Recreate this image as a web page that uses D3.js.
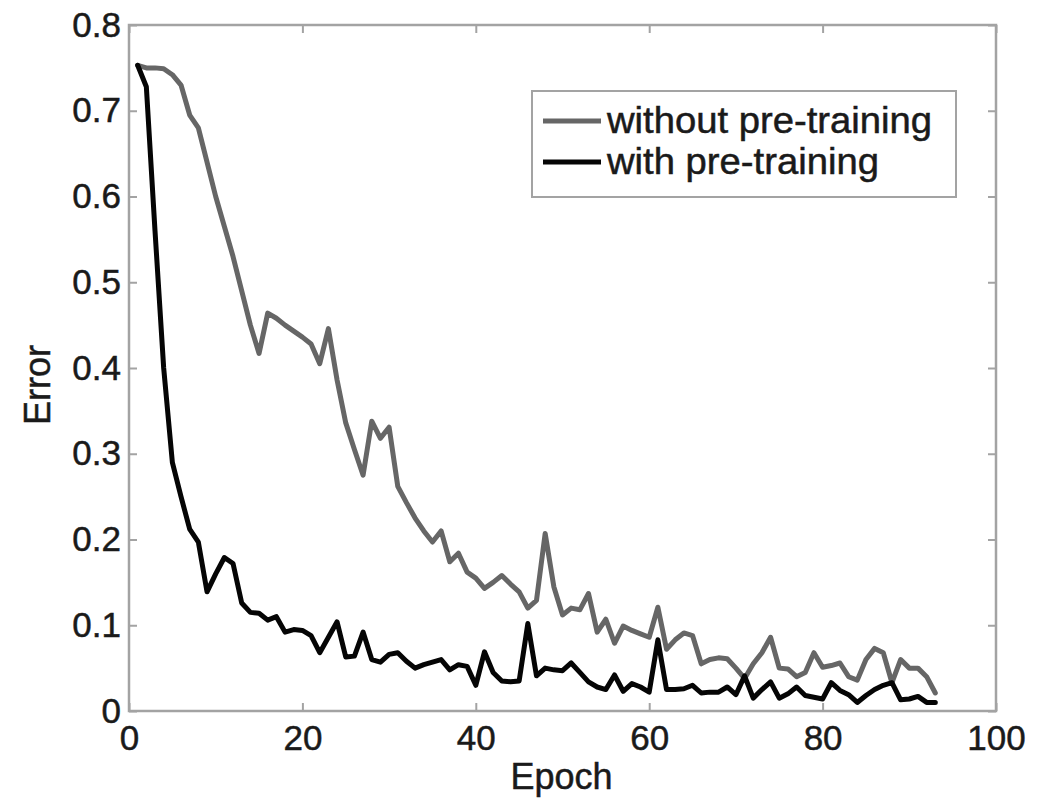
<!DOCTYPE html>
<html>
<head>
<meta charset="utf-8">
<script src="https://cdn.jsdelivr.net/npm/d3@7"></script>
<style>
  html, body { margin: 0; padding: 0; background: #fff; }
  svg { display: block; }
  text { font-family: "Liberation Sans", Arial, Helvetica, sans-serif; fill: #1a1a1a; stroke: #1a1a1a; stroke-width: 0.5px; }
</style>
</head>
<body>
<svg id="chart" width="1059" height="799"></svg>
<script>
// ---- data ----
const epochs = d3.range(1, 94);
const withoutPretraining = [
  0.753, 0.750, 0.750, 0.749, 0.742, 0.730, 0.695, 0.680, 0.640, 0.600,
  0.565, 0.530, 0.490, 0.450, 0.417, 0.464, 0.458, 0.450, 0.443, 0.436,
  0.428, 0.405, 0.446, 0.386, 0.336, 0.305, 0.275, 0.338, 0.318, 0.331,
  0.262, 0.243, 0.225, 0.210, 0.197, 0.210, 0.174, 0.184, 0.162, 0.155,
  0.143, 0.150, 0.158, 0.148, 0.139, 0.120, 0.129, 0.207, 0.145, 0.112,
  0.120, 0.118, 0.137, 0.092, 0.107, 0.079, 0.099, 0.094, 0.090, 0.086,
  0.121, 0.072, 0.083, 0.091, 0.088, 0.055, 0.060, 0.062, 0.061, 0.050,
  0.038, 0.055, 0.068, 0.086, 0.050, 0.049, 0.040, 0.045, 0.068, 0.051,
  0.053, 0.056, 0.040, 0.036, 0.060, 0.073, 0.068, 0.033, 0.060, 0.050,
  0.050, 0.040, 0.021
];
const withPretraining = [
  0.753, 0.728, 0.560, 0.400, 0.290, 0.250, 0.212, 0.197, 0.139, 0.160,
  0.179, 0.172, 0.126, 0.115, 0.114, 0.106, 0.110, 0.092, 0.095, 0.094,
  0.088, 0.068, 0.086, 0.104, 0.063, 0.064, 0.092, 0.060, 0.057, 0.066,
  0.068, 0.058, 0.050, 0.054, 0.057, 0.060, 0.048, 0.054, 0.052, 0.030,
  0.069, 0.045, 0.035, 0.034, 0.035, 0.102, 0.041, 0.050, 0.048, 0.047,
  0.056, 0.045, 0.034, 0.028, 0.025, 0.042, 0.023, 0.032, 0.028, 0.022,
  0.083, 0.025, 0.025, 0.026, 0.030, 0.021, 0.022, 0.022, 0.028, 0.019,
  0.041, 0.015, 0.025, 0.034, 0.015, 0.020, 0.028, 0.018, 0.016, 0.014,
  0.033, 0.024, 0.019, 0.010, 0.018, 0.025, 0.030, 0.033, 0.013, 0.014,
  0.017, 0.010, 0.010
];
const seriesNames = ["without pre-training", "with pre-training"];
const xTicks = [0, 20, 40, 60, 80, 100];
const yTicks = [0, 0.1, 0.2, 0.3, 0.4, 0.5, 0.6, 0.7, 0.8];
const xLabel = "Epoch";
const yLabel = "Error";

// ---- layout ----
const svg = d3.select("#chart");
const L = 129, R = 996, T = 25, B = 711;
const axisColor = "#a3a3a3";
const colors = ["#666666", "#050505"];

const x = d3.scaleLinear().domain([0, 100]).range([L, R]);
const y = d3.scaleLinear().domain([0, 0.8]).range([B, T]);

const fmtY = d => d === 0 ? "0" : d3.format(".1f")(d);

function styleAxis(g) {
  g.select(".domain").remove();
  g.selectAll(".tick line").attr("stroke", axisColor).attr("stroke-width", 2);
  g.selectAll(".tick text").attr("font-size", 35).attr("fill", "#1a1a1a")
    .attr("font-family", '"Liberation Sans", Arial, sans-serif');
}

// bottom axis
svg.append("g").attr("transform", `translate(0,${B})`)
  .call(d3.axisBottom(x).tickValues(xTicks).tickFormat(d3.format("d")).tickSize(-8).tickPadding(14))
  .call(styleAxis);
// top ticks
svg.append("g").attr("transform", `translate(0,${T})`)
  .call(d3.axisTop(x).tickValues(xTicks).tickFormat("").tickSize(-8))
  .call(styleAxis);
// left axis
svg.append("g").attr("transform", `translate(${L},0)`)
  .call(d3.axisLeft(y).tickValues(yTicks).tickFormat(fmtY).tickSize(-8).tickPadding(8))
  .call(styleAxis);
// right ticks
svg.append("g").attr("transform", `translate(${R},0)`)
  .call(d3.axisRight(y).tickValues(yTicks).tickFormat("").tickSize(-8))
  .call(styleAxis);

// box
svg.append("rect").attr("x", L).attr("y", T).attr("width", R - L).attr("height", B - T)
  .attr("fill", "none").attr("stroke", axisColor).attr("stroke-width", 2.5);

// lines
const line = d3.line().x((d, i) => x(epochs[i])).y(d => y(d));
[withoutPretraining, withPretraining].forEach((s, k) => {
  svg.append("path").datum(s).attr("d", line)
    .attr("fill", "none").attr("stroke", colors[k]).attr("stroke-width", 5)
    .attr("stroke-linejoin", "round").attr("stroke-linecap", "round");
});

// axis labels
svg.append("text").attr("x", (L + R) / 2 - 1).attr("y", 789)
  .attr("text-anchor", "middle").attr("font-size", 36).text(xLabel);
svg.append("text").attr("transform", `translate(50,385) rotate(-90)`)
  .attr("text-anchor", "middle").attr("font-size", 36).text(yLabel);

// legend
const lg = svg.append("g");
lg.append("rect").attr("x", 532).attr("y", 91).attr("width", 424).attr("height", 106)
  .attr("fill", "#fff").attr("stroke", axisColor).attr("stroke-width", 2);
const legendWidths = [325, 272];
seriesNames.forEach((name, k) => {
  const cy = 121 + k * 41;
  lg.append("line").attr("x1", 543).attr("x2", 601).attr("y1", cy).attr("y2", cy)
    .attr("stroke", colors[k]).attr("stroke-width", 5);
  lg.append("text").attr("x", 607).attr("y", cy + 12).attr("font-size", 36)
    .attr("textLength", legendWidths[k]).attr("lengthAdjust", "spacingAndGlyphs").text(name);
});
</script>
</body>
</html>
